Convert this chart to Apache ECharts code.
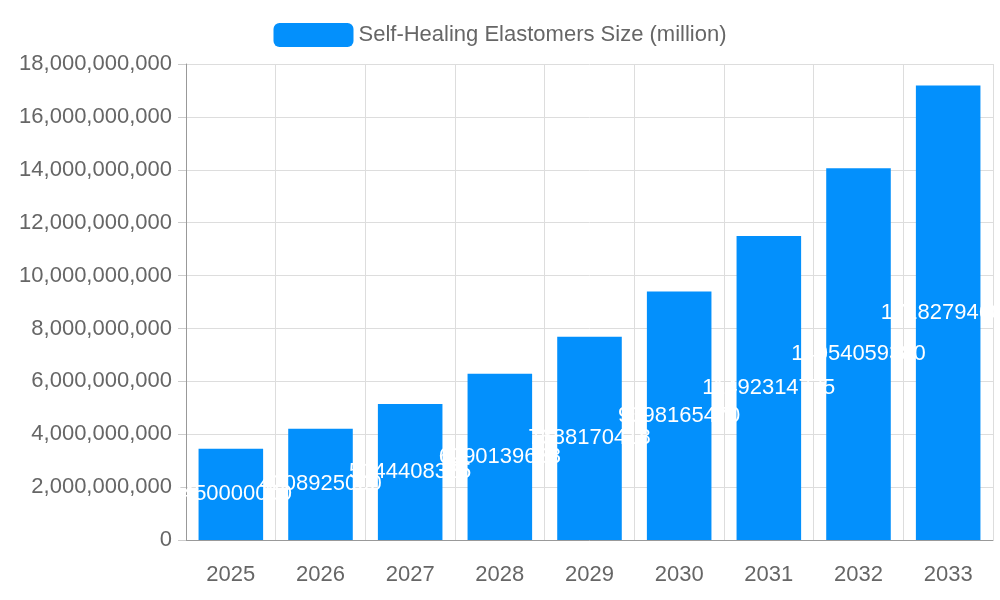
<!DOCTYPE html>
<html>
<head>
<meta charset="utf-8">
<script src="https://cdn.jsdelivr.net/npm/echarts@6/dist/echarts.min.js"></script>
<style>html,body{margin:0;padding:0;background:#fff}#chart{width:1000px;height:600px}</style>
</head>
<body>
<div id="chart"></div>
<script>
var years = ['2025', '2026', '2027', '2028', '2029', '2030', '2031', '2032', '2033'];
var sizes = [3450000000, 4208925000, 5144408325, 6290139633, 7688170418, 9398165470, 11492314775, 14054059380, 17182794600];
var yTicks = { min: 0, max: 18000000000, interval: 2000000000 };

var myChart = echarts.init(document.getElementById('chart'));
var option = {
    animation: false,
    legend: {
        top: 18, left: 'center', itemWidth: 80, itemHeight: 24, itemGap: 12,
        textStyle: { fontSize: 22, color: '#666', fontFamily: 'Liberation Sans' }
    },
    grid: { left: 186, right: 7, top: 64, bottom: 60 },
    xAxis: {
        type: 'category', data: years,
        axisLine: { lineStyle: { color: '#999' } },
        axisTick: { length: 18, lineStyle: { color: '#ccc' } },
        splitLine: { show: true, lineStyle: { color: '#ddd' } },
        axisLabel: { fontSize: 22, color: '#666', margin: 24, fontFamily: 'Liberation Sans' }
    },
    yAxis: {
        type: 'value', min: yTicks.min, max: yTicks.max, interval: yTicks.interval,
        axisLine: { show: true, lineStyle: { color: '#999' } },
        axisTick: { show: true, length: 8, lineStyle: { color: '#ccc' } },
        splitLine: { lineStyle: { color: '#ddd' } },
        axisLabel: { fontSize: 22, color: '#666', margin: 14, fontFamily: 'Liberation Sans' }
    },
    series: [{
        name: 'Self-Healing Elastomers Size (million)',
        type: 'bar', data: sizes, barWidth: '72%',
        itemStyle: { color: '#0390fc' },
        label: { show: true, position: 'inside', color: '#fff', fontSize: 22, fontFamily: 'Liberation Sans' }
    }]
};
myChart.setOption(option, true);
</script>
</body>
</html>
